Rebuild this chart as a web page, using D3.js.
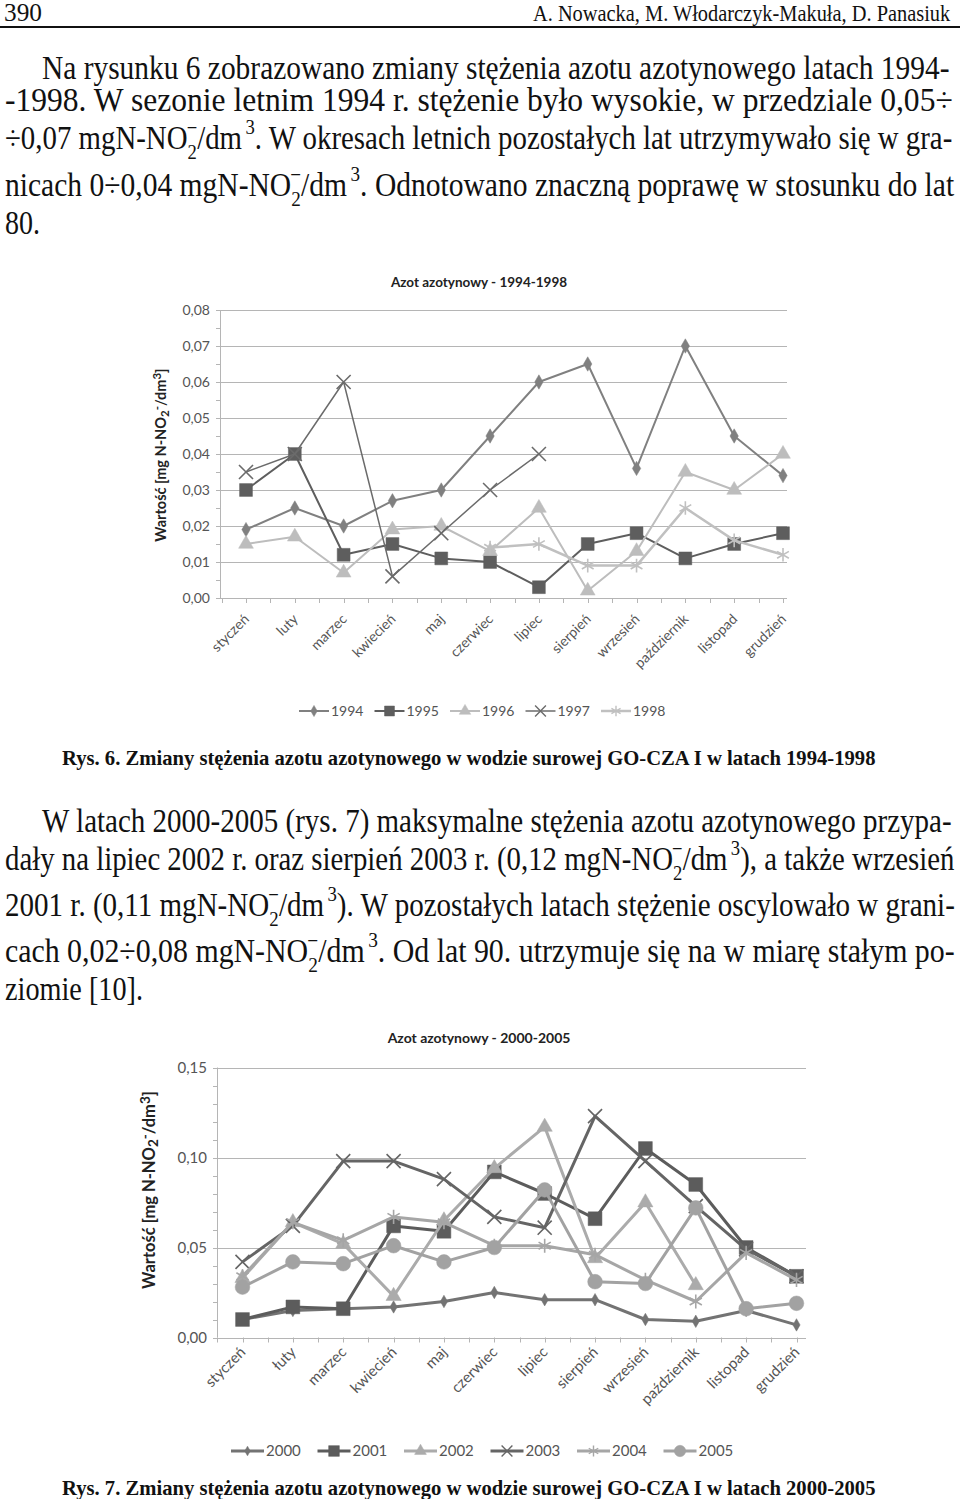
<!DOCTYPE html>
<html>
<head>
<meta charset="utf-8">
<script src="https://cdn.jsdelivr.net/npm/d3@7"></script>
<style>
  body { margin: 0; background: #fff; }
  .body { font-family: "Liberation Serif", serif; font-size: 34px; fill: #111; }
  .cap { font-family: "Liberation Serif", serif; font-size: 21px; font-weight: bold; fill: #111; }
  .ch { font-family: Lato, "Open Sans", sans-serif; fill: #555; }
</style>
</head>
<body>
<script>
// ---- data ----
var months1 = ["styczeń","luty","marzec","kwiecień","maj","czerwiec","lipiec","sierpień","wrzesień","październik","listopad","grudzień"];
var months2 = ["styczeń","łuty","marzec","kwiecień","maj","czerwiec","lipiec","sierpień","wrzesień","październik","listopad","grudzień"];
var years1 = ["1994","1995","1996","1997","1998"];
var years2 = ["2000","2001","2002","2003","2004","2005"];
var ticks1 = [0,0.01,0.02,0.03,0.04,0.05,0.06,0.07,0.08];
var ticks2 = [0,0.05,0.10,0.15];

var v1994 = [0.019,0.025,0.020,0.027,0.030,0.045,0.060,0.065,0.036,0.070,0.045,0.034];
var v1995 = [0.030,0.040,0.012,0.015,0.011,0.010,0.003,0.015,0.018,0.011,0.015,0.018];
var v1996 = [0.015,0.017,0.007,0.019,0.020,0.013,0.025,0.002,0.013,0.035,0.030,0.040];
var v1997 = [0.035,0.040,0.060,0.006,0.018,0.030,0.040,null,null,null,null,null];
var v1998 = [null,null,null,null,null,0.014,0.015,0.009,0.009,0.025,0.016,0.012];

var v2000 = [0.010,0.015,0.016,0.017,0.020,0.025,0.021,0.021,0.010,0.009,0.015,0.007];
var v2001 = [0.010,0.017,0.016,0.062,0.059,0.092,0.080,0.066,0.105,0.085,0.050,0.034];
var v2002 = [0.033,0.064,0.052,0.023,0.065,0.094,0.117,0.044,0.075,0.029,null,null];
var v2003 = [0.042,0.062,0.098,0.098,0.088,0.067,0.061,0.123,0.098,0.073,0.049,0.034];
var v2004 = [0.034,0.064,0.054,0.067,0.064,0.051,0.051,0.046,0.032,0.020,0.047,0.032];
var v2005 = [0.028,0.042,0.041,0.051,0.042,0.050,0.082,0.031,0.030,0.072,0.016,0.019];

var svg = d3.select("body").append("svg").attr("width", 960).attr("height", 1499);

// ---- page text ----
function unit(after) {
  return [["mgN-NO",0],["2",10,22],["\u2212",-24,22,-12],["/dm",14],["3",-15,22,4],[after,15]];
}
// set a line of text, then squeeze it horizontally to the wanted width
function line(x, y, w, segs, cls, fs) {
  var t = svg.append("text").attr("class", cls || "body");
  if (fs) t.style("font-size", fs);
  segs.forEach(function(s) {
    var sp = t.append("tspan").text(s[0]);
    if (s[1]) sp.attr("dy", s[1]);
    if (s[2]) sp.attr("font-size", s[2]);
    if (s[3]) sp.attr("dx", s[3]);
  });
  var b = t.node().getBBox();
  var k = w / b.width;
  t.attr("transform", "translate(" + (x - b.x * k) + "," + y + ") scale(" + k + ",1)");
  return t;
}

line(4, 21, 38, [["390"]], null, "25px");
line(533, 21, 418, [["A. Nowacka, M. Włodarczyk-Makuła, D. Panasiuk"]], null, "23px");
svg.append("line").attr("x1", 0).attr("x2", 960).attr("y1", 27).attr("y2", 27)
  .attr("stroke", "#111").attr("stroke-width", 2);

line(42, 79, 908, [["Na rysunku 6 zobrazowano zmiany stężenia azotu azotynowego latach 1994-"]]);
line(5, 111, 948, [["-1998. W sezonie letnim 1994 r. stężenie było wysokie, w przedziale 0,05÷"]]);
line(5, 149, 948, [["÷0,07  "]].concat(unit(". W okresach letnich pozostałych lat utrzymywało się w gra-")));
line(5, 196, 950, [["nicach 0÷0,04  "]].concat(unit(". Odnotowano znaczną poprawę w stosunku do lat")));
line(5, 234, 35, [["80."]]);

line(62, 765, 814, [["Rys. 6. Zmiany stężenia azotu azotynowego w wodzie surowej GO-CZA I w latach 1994-1998"]], "cap");

line(42, 832, 910, [["W latach 2000-2005 (rys. 7) maksymalne stężenia azotu azotynowego przypa-"]]);
line(5, 870, 950, [["dały na lipiec 2002 r. oraz sierpień 2003 r. (0,12  "]].concat(unit("), a także wrzesień")));
line(5, 916, 950, [["2001 r. (0,11  "]].concat(unit("). W pozostałych latach stężenie oscylowało w grani-")));
line(5, 962, 950, [["cach 0,02÷0,08  "]].concat(unit(". Od lat 90. utrzymuje się na w miarę stałym po-")));
line(5, 1000, 138, [["ziomie [10]."]]);

line(62, 1495, 814, [["Rys. 7. Zmiany stężenia azotu azotynowego w wodzie surowej GO-CZA I w latach 2000-2005"]], "cap");

// ---- charts ----
var symbols = {
  diamond: [d3.symbolDiamond, true], square: [d3.symbolSquare, true],
  triangle: [d3.symbolTriangle, true], circle: [d3.symbolCircle, true],
  x: [d3.symbolTimes, false], asterisk: [d3.symbolAsterisk, false]
};

function drawChart(c) {
  var g = svg.append("g");
  var x = d3.scalePoint().domain(c.months).range(c.xRange);
  var y = d3.scaleLinear().domain(c.yDomain).range(c.yRange);
  var step = x.step();

  // gridlines
  g.selectAll(".grid").data(c.ticks).enter().append("line")
    .attr("x1", c.left).attr("x2", c.right)
    .attr("y1", function(d) { return Math.round(y(d)) + 0.5; })
    .attr("y2", function(d) { return Math.round(y(d)) + 0.5; })
    .attr("stroke", "#b5b5b5").attr("stroke-width", 1);
  // y axis line + minor ticks
  g.append("line").attr("x1", c.left + 0.5).attr("x2", c.left + 0.5)
    .attr("y1", y(c.yDomain[1])).attr("y2", y(0)).attr("stroke", "#b5b5b5");
  g.selectAll(".minor").data(d3.range(0, c.yDomain[1] + 1e-9, c.minor)).enter().append("line")
    .attr("x1", c.left - 4).attr("x2", c.left)
    .attr("y1", function(d) { return Math.round(y(d)) + 0.5; })
    .attr("y2", function(d) { return Math.round(y(d)) + 0.5; })
    .attr("stroke", "#b5b5b5");
  // x ticks at half steps
  var xt = d3.range(0, c.months.length * 2).map(function(i) { return c.xRange[0] - step / 2 + i * step / 2; })
    .filter(function(v) { return v <= c.right + 1; });
  g.selectAll(".xt").data(xt).enter().append("line")
    .attr("x1", function(d) { return Math.round(d) + 0.5; }).attr("x2", function(d) { return Math.round(d) + 0.5; })
    .attr("y1", y(0)).attr("y2", y(0) + 5).attr("stroke", "#b5b5b5");

  // y labels
  g.selectAll(".yl").data(c.ticks).enter().append("text").attr("class", "ch")
    .attr("x", c.left - 10).attr("y", function(d) { return y(d) + 5; })
    .attr("text-anchor", "end").style("font-size", c.fs + "px")
    .text(function(d) { return d3.format(".2f")(d).replace(".", ","); });
  // x labels
  g.selectAll(".xl").data(c.months).enter().append("text").attr("class", "ch")
    .attr("text-anchor", "end").style("font-size", c.fs + "px")
    .attr("transform", function(d) { return "translate(" + (x(d) + 4) + "," + c.xLabelY + ") rotate(-45)"; })
    .text(function(d) { return d; });
  // title
  g.append("text").attr("class", "ch").attr("x", c.titleX).attr("y", c.titleY)
    .attr("text-anchor", "middle").style("font-size", c.tfs + "px").style("font-weight", "bold").style("fill", "#222")
    .text(c.title);
  // y axis title
  var yt = g.append("text").attr("class", "ch")
    .attr("transform", "translate(" + c.ytX + "," + c.ytY + ") rotate(-90)")
    .attr("text-anchor", "middle").style("font-size", c.yfs + "px").style("font-weight", "bold").style("fill", "#222");
  yt.append("tspan").text("Wartość [mg N-NO");
  yt.append("tspan").attr("dy", 3).style("font-size", (c.yfs - 3) + "px").text("2");
  yt.append("tspan").attr("dy", -8).style("font-size", (c.yfs - 3) + "px").text("-");
  yt.append("tspan").attr("dy", 5).text("/dm");
  yt.append("tspan").attr("dy", -5).style("font-size", (c.yfs - 3) + "px").text("3");
  yt.append("tspan").attr("dy", 5).text("]");

  // series
  var ln = d3.line().defined(function(d) { return d != null; })
    .x(function(d, i) { return x(c.months[i]); }).y(function(d) { return y(d); });
  c.series.forEach(function(s) {
    g.append("path").attr("d", ln(s.values)).attr("fill", "none")
      .attr("stroke", s.color).attr("stroke-width", s.lw).attr("stroke-linejoin", "round");
    var sym = symbols[s.shape];
    g.selectAll(null).data(s.values.map(function(v, i) { return [i, v]; }).filter(function(d) { return d[1] != null; }))
      .enter().append("path")
      .attr("transform", function(d) { return "translate(" + x(c.months[d[0]]) + "," + y(d[1]) + ")"; })
      .attr("d", d3.symbol().type(sym[0]).size(s.size))
      .attr("fill", sym[1] ? s.color : "none")
      .attr("stroke", s.color).attr("stroke-width", sym[1] ? 0.5 : 1.6);
  });

  // legend
  c.series.forEach(function(s, i) {
    var x0 = c.legX + i * c.legStep;
    var sym = symbols[s.shape];
    g.append("line").attr("x1", x0).attr("x2", x0 + c.legLine).attr("y1", c.legY).attr("y2", c.legY)
      .attr("stroke", s.color).attr("stroke-width", s.lw);
    g.append("path").attr("transform", "translate(" + (x0 + c.legLine / 2) + "," + c.legY + ")")
      .attr("d", d3.symbol().type(sym[0]).size(s.size * 0.6))
      .attr("fill", sym[1] ? s.color : "none").attr("stroke", s.color).attr("stroke-width", sym[1] ? 0.5 : 1.4);
    g.append("text").attr("class", "ch").attr("x", x0 + c.legLine + 2).attr("y", c.legY + 5)
      .style("font-size", c.lfs + "px").text(s.name);
  });
}

drawChart({
  months: months1, xRange: [246, 783], yDomain: [0, 0.08], yRange: [598, 310],
  left: 220, right: 787, ticks: ticks1, minor: 0.005, fs: 14, tfs: 13.5, yfs: 14.5, lfs: 14, xLabelY: 620,
  title: "Azot azotynowy - 1994-1998", titleX: 479, titleY: 287, ytX: 166, ytY: 455,
  legX: 299, legStep: 75.5, legLine: 30, legY: 711,
  series: [
    { name: years1[0], values: v1994, color: "#808080", shape: "diamond", size: 60, lw: 2 },
    { name: years1[1], values: v1995, color: "#5e5e5e", shape: "square", size: 165, lw: 2 },
    { name: years1[2], values: v1996, color: "#bdbdbd", shape: "triangle", size: 95, lw: 2 },
    { name: years1[3], values: v1997, color: "#6b6b6b", shape: "x", size: 130, lw: 1.5 },
    { name: years1[4], values: v1998, color: "#c0c0c0", shape: "asterisk", size: 130, lw: 2.5 }
  ]
});

drawChart({
  months: months2, xRange: [242.5, 796.5], yDomain: [0, 0.15], yRange: [1337.5, 1067.5],
  left: 217, right: 806, ticks: ticks2, minor: 0.01, fs: 15, tfs: 14, yfs: 16.5, lfs: 15, xLabelY: 1353,
  title: "Azot azotynowy - 2000-2005", titleX: 479, titleY: 1043, ytX: 155, ytY: 1190,
  legX: 231, legStep: 86.5, legLine: 33, legY: 1451,
  series: [
    { name: years2[0], values: v2000, color: "#737373", shape: "diamond", size: 45, lw: 3 },
    { name: years2[1], values: v2001, color: "#5c5c5c", shape: "square", size: 190, lw: 3 },
    { name: years2[2], values: v2002, color: "#ababab", shape: "triangle", size: 100, lw: 3 },
    { name: years2[3], values: v2003, color: "#656565", shape: "x", size: 130, lw: 3 },
    { name: years2[4], values: v2004, color: "#a6a6a6", shape: "asterisk", size: 140, lw: 3 },
    { name: years2[5], values: v2005, color: "#a2a2a2", shape: "circle", size: 170, lw: 3 }
  ]
});
</script>
</body>
</html>
